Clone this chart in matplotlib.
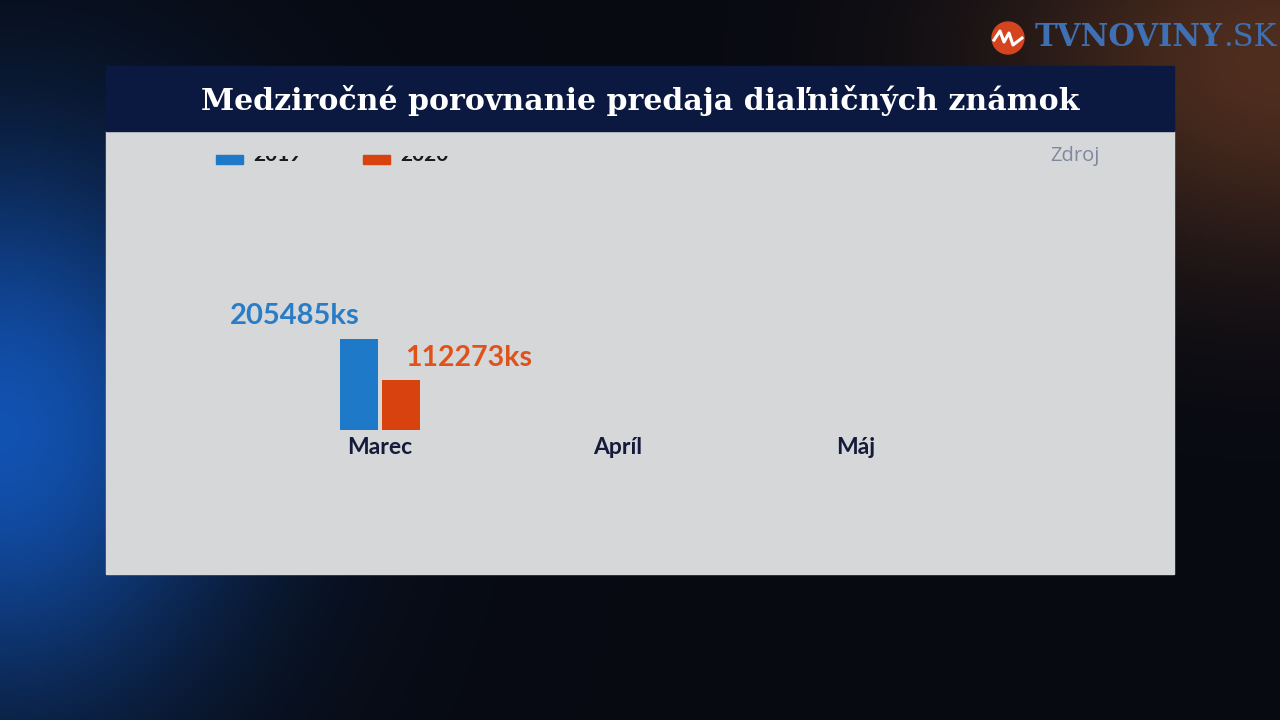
import numpy as np
import matplotlib.pyplot as plt
from matplotlib.patches import Rectangle, Circle

# data
months = ["Marec", "Apríl", "Máj"]
series_names = ["2019", "2020"]
sales_2019 = [205485, np.nan, np.nan]
sales_2020 = [112273, np.nan, np.nan]
title = "Medziročné porovnanie predaja diaľničných známok"

blue = "#1f79c9"
orange = "#d8420f"
navy = "#0b1840"

fig = plt.figure(figsize=(12.8, 7.2), dpi=100)

# background, drawn in pixel coordinates
bg = fig.add_axes([0, 0, 1, 1])
bg.set_xlim(0, 1280)
bg.set_ylim(720, 0)
bg.axis("off")

yy, xx = np.mgrid[0:720:4, 0:1280:4]
base = np.array([0.03, 0.04, 0.07])
glow_blue = np.exp(-(((xx - 0) / 240.0) ** 2 + ((yy - 430) / 280.0) ** 2))
glow_warm = np.exp(-(((xx - 1280) / 280.0) ** 2 + ((yy - 60) / 200.0) ** 2))
img = (base[None, None, :]
       + glow_blue[..., None] * np.array([0.04, 0.28, 0.62])[None, None, :]
       + glow_warm[..., None] * np.array([0.28, 0.14, 0.05])[None, None, :])
bg.imshow(np.clip(img, 0, 1), extent=(0, 1280, 720, 0), aspect="auto", zorder=0)

# panel and title bar
bg.add_patch(Rectangle((106, 131), 1068, 443, color="#d5d7d9", zorder=1))
bg.add_patch(Rectangle((106, 66), 1068, 65, color=navy, zorder=1))
bg.text(640, 100, title, color="white", fontsize=21.6, fontweight="bold",
        family="DejaVu Serif", ha="center", va="center", zorder=2)

# legend (top of the labels hidden as in the source frame)
clip = Rectangle((106, 155.5), 1068, 20, transform=bg.transData)
for i, (name, col) in enumerate(zip(series_names, [blue, orange])):
    x0 = 216 + i * 147
    bg.add_patch(Rectangle((x0, 155), 27, 9, color=col, zorder=2))
    t = bg.text(x0 + 37, 161, name, color="#1a1a1a", fontsize=15, fontweight="bold",
                family="Lato", ha="left", va="baseline", zorder=2)
    t.set_clip_on(True)
    t.set_clip_path(clip)

bg.text(1100, 156, "Zdroj", color="#8088a0", fontsize=14.5, family="Open Sans",
        ha="right", va="center", zorder=2)

# logo
bg.add_patch(Circle((1008, 38), 16, color="#d4451f", zorder=2))
bg.plot([994, 1000, 1004, 1009, 1013, 1022], [40, 31, 42, 33, 45, 38],
        color="white", lw=2.2, zorder=3)
brand = bg.text(1035, 38, "TVNOVINY", color="#3f70b3", fontsize=22, fontweight="bold",
                family="DejaVu Serif", ha="left", va="center", zorder=2)
bg.annotate(".SK", xy=(1, 0.5), xycoords=brand, color="#3f70b3", fontsize=22,
            family="DejaVu Serif", ha="left", va="center", zorder=2)

# chart
ax = fig.add_axes([106 / 1280, 290 / 720, 1068 / 1280, 200 / 720])
ax.patch.set_alpha(0)
x = np.arange(len(months))
w = 0.16
ax.bar(x - 0.087, sales_2019, w, color=blue)
ax.bar(x + 0.087, sales_2020, w, color=orange)
ax.set_xlim(-1.151, 3.336)
ax.set_ylim(0, 451600)
for s in ax.spines.values():
    s.set_visible(False)
ax.set_yticks([])
ax.set_xticks(x, months)
ax.tick_params(axis="x", length=0, pad=5)
for lab in ax.get_xticklabels():
    lab.set_fontfamily("Lato")
    lab.set_fontweight("bold")
    lab.set_fontsize(16.5)
    lab.set_color("#141a3a")

for xi, v in zip(x, sales_2019):
    if not np.isnan(v):
        ax.annotate(f"{v:.0f}ks", (xi - 0.087, v), xytext=(0, 7), textcoords="offset points",
                    ha="right", va="bottom", color="#2a7cc6", fontsize=21,
                    fontweight="bold", family="Lato")
for xi, v in zip(x, sales_2020):
    if not np.isnan(v):
        ax.annotate(f"{v:.0f}ks", (xi + 0.087, v), xytext=(3, 7), textcoords="offset points",
                    ha="left", va="bottom", color="#e0521c", fontsize=20.5,
                    fontweight="bold", family="Lato")

fig.savefig("out.png", dpi=100)
